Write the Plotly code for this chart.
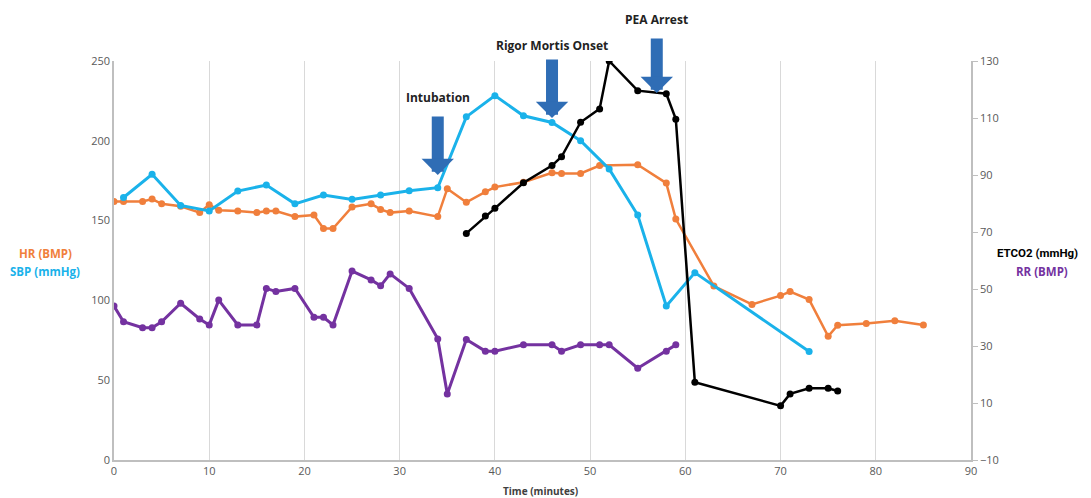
import plotly.graph_objects as go

# ---- data ----
hr_t = [0, 1, 3, 4, 5, 7, 9, 10, 11, 13, 15, 16, 17, 19, 21, 22, 23, 25, 27, 28, 29, 31, 34, 35,
        37, 39, 40, 43, 46, 47, 49, 51, 55, 58, 59, 63, 67, 70, 71, 73, 75, 76, 79, 82, 85]
hr_v = [162, 162, 162, 163.5, 160.5, 159, 155, 160, 156.5, 156, 155, 156, 156, 152.5, 153.5, 145, 145, 158.5, 160.5, 157, 155, 156, 152.5, 170,
        161.5, 168, 171, 174, 180, 179.5, 179.5, 184.5, 185, 173.5, 151, 109, 97.5, 103, 105.5, 100.5, 77.5, 84.5, 85.5, 87.3, 84.6]

sbp_t = [1, 4, 7, 10, 13, 16, 19, 22, 25, 28, 31, 34, 37, 40, 43, 46, 49, 52, 55, 58, 61, 73]
sbp_v = [164.5, 179, 159.5, 156, 168.5, 172.3, 160.5, 166, 163.3, 166, 168.7, 170.6, 215, 228.3, 215.7, 211.5, 200, 182.3, 153.5, 96.5, 117.4, 68]

etco2_t = [37, 39, 40, 43, 46, 47, 49, 51, 52, 55, 58, 59, 61, 70, 71, 73, 75, 76]
etco2_v = [69.5, 75.6, 78.3, 87.3, 93.3, 96.4, 108.5, 113.2, 130, 119.6, 118.5, 109.6, 17.3, 9, 13.2, 15.2, 15.2, 14.2]

rr_t = [0, 1, 3, 4, 5, 7, 9, 10, 11, 13, 15, 16, 17, 19, 21, 22, 23, 25, 27, 28, 29, 31, 34, 35,
        37, 39, 40, 43, 46, 47, 49, 51, 52, 55, 58, 59]
rr_v = [44, 38.5, 36.4, 36.4, 38.5, 45, 39.5, 37.4, 46.1, 37.4, 37.4, 50.2, 49.1, 50.2, 40.1, 40.1, 37.4, 56.3, 53.2, 51.1, 55.3, 50.2, 32.5, 13.2,
        32.3, 28.2, 28.2, 30.4, 30.4, 28.2, 30.4, 30.4, 30.4, 22.2, 28.2, 30.4]

events = ["Intubation", "Rigor Mortis Onset", "PEA Arrest"]
event_t = [34, 46, 57]
# page pixel positions of arrow tip, arrow tail and label centre
event_tip = [175, 118, 93]
event_tail = [115, 58, 37]
event_label = [98, 46, 19]

ORANGE = "#f07f3c"
BLUE = "#1ab2ea"
PURPLE = "#7432a0"
BLACK = "#000000"
ARROW = "#2f6db5"

fig = go.Figure()
fig.add_trace(go.Scatter(x=hr_t, y=hr_v, mode="lines+markers", line=dict(color=ORANGE, width=2.5),
                         marker=dict(size=7, color=ORANGE), name="HR (BMP)"))
fig.add_trace(go.Scatter(x=sbp_t, y=sbp_v, mode="lines+markers", line=dict(color=BLUE, width=3),
                         marker=dict(size=7, color=BLUE), name="SBP (mmHg)"))
fig.add_trace(go.Scatter(x=rr_t, y=rr_v, mode="lines+markers", line=dict(color=PURPLE, width=3),
                         marker=dict(size=7, color=PURPLE), name="RR (BMP)", yaxis="y2"))
fig.add_trace(go.Scatter(x=etco2_t, y=etco2_v, mode="lines+markers", line=dict(color=BLACK, width=2.5),
                         marker=dict(size=7, color=BLACK), name="ETCO2 (mmHg)", yaxis="y2"))

W, H = 1091, 498
# page has an 8px body margin, so plot area 114..971 x 61..460 on screen
ml, mr, mt, mb = 106, 128, 53, 46
PX0, PX1, PY0, PY1 = 114, 971, 61, 460

tick_font = dict(family="Open Sans, Liberation Sans, sans-serif", size=11, color="#595959")

fig.update_layout(
    width=W, height=H,
    margin=dict(l=ml, r=mr, t=mt, b=mb),
    paper_bgcolor="white", plot_bgcolor="white",
    showlegend=False,
    font=dict(family="Open Sans, Liberation Sans, sans-serif"),
    xaxis=dict(range=[0, 90], dtick=10, tick0=0, showgrid=True, gridcolor="#d9d9d9", gridwidth=1.3,
               showline=True, linecolor="#bfbfbf", linewidth=1.5, zeroline=False,
               tickfont=tick_font, ticks=""),
    yaxis=dict(range=[0, 250], dtick=50, showgrid=False, showline=True, linecolor="#bfbfbf",
               linewidth=1.5, zeroline=False, tickfont=tick_font, ticks=""),
    yaxis2=dict(range=[-10, 130], dtick=20, tick0=-10, overlaying="y", side="right", showgrid=False,
                showline=True, linecolor="#bfbfbf", linewidth=1.5, zeroline=False, tickfont=tick_font,
                ticks="outside", ticklen=5, tickcolor="#bfbfbf"),
)

def paper_y(py):
    return 1 - (py - PY0) / (PY1 - PY0)

def paper_x(px):
    return (px - PX0) / (PX1 - PX0)

def label(xp, yp, text, color, size=12, family="Open Sans, Liberation Sans, sans-serif", anchor="center"):
    fig.add_annotation(x=paper_x(xp), y=paper_y(yp), xref="paper", yref="paper", text=text,
                       showarrow=False, xanchor=anchor, yanchor="middle",
                       font=dict(family=family, size=size, color=color))

label(45, 253, "<b>HR (BMP)</b>", ORANGE, 11.5)
label(45, 271, "<b>SBP (mmHg)</b>", BLUE, 11.5)
label(1080, 253, "<b>ETCO2 (mmHg)</b>", BLACK, 11.5, "Roboto, Open Sans, sans-serif", anchor="right")
label(1042, 271, "<b>RR (BMP)</b>", PURPLE, 11.5)
label(540, 491, "<b>Time (minutes)</b>", "#404040", size=10)

for name, t, tip, tail, ly in zip(events, event_t, event_tip, event_tail, event_label):
    fig.add_annotation(x=t, y=paper_y(tip), xref="x", yref="paper", text="",
                       showarrow=True, ax=0, ay=-(tip - tail), arrowhead=1, arrowsize=0.45, arrowwidth=12,
                       arrowcolor=ARROW)
    fig.add_annotation(x=t, y=paper_y(ly), xref="x", yref="paper", text="<b>" + name + "</b>",
                       showarrow=False, xanchor="center", yanchor="middle",
                       font=dict(family="Open Sans, Liberation Sans, sans-serif", size=12, color="#222222"))

fig.write_html("out.html")
